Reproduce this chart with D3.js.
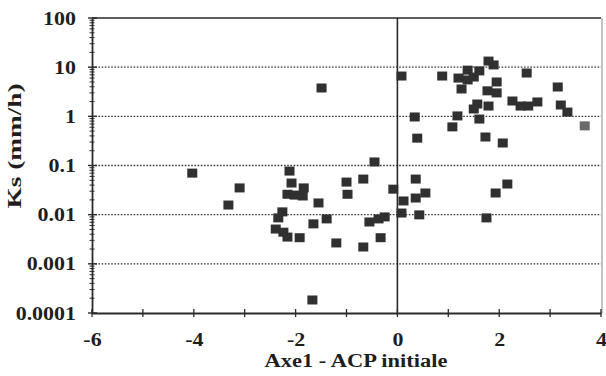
<!DOCTYPE html>
<html>
<head>
<meta charset="utf-8">
<script src="https://cdn.jsdelivr.net/npm/d3@7"></script>
<style>
  html, body { margin: 0; padding: 0; background: #fff; }
  svg { display: block; }
  text { font-family: "Liberation Serif", "Times New Roman", serif; font-weight: bold; fill: #1e1e1e; }
</style>
</head>
<body>
<svg id="chart" width="606" height="376"></svg>
<script>
// Axis 1 scores of the initial PCA
const axe1 = [
  -4.03, -3.10, -3.32, -1.49, -2.12, -2.08, -2.16, -1.84, -2.02, -1.86,
  -1.55, -2.26, -2.34, -2.39, -2.24, -2.16, -1.92, -1.65, -1.39, -1.20,
  -1.67, -1.00, -0.98, -0.67, -0.45, -0.55, -0.37, -0.25, -0.33, -0.67,
  -0.08, 0.12, 0.08, 0.36, 0.36, 0.55, 0.43, 1.93, 2.16, 1.75,
  0.08, 1.79, 1.89, 2.54, 0.88, 1.38, 1.61, 1.20, 1.38, 1.50,
  1.26, 1.95, 1.77, 1.95, 3.15, 2.26, 2.42, 2.57, 2.75, 3.21,
  3.34, 1.57, 1.50, 1.79, 0.34, 1.18, 1.61, 1.08, 0.39, 1.73,
  2.07, 3.68
];
// Saturated hydraulic conductivity Ks (mm/h)
const ks = [
  0.070, 0.035, 0.0157, 3.77, 0.077, 0.044, 0.026, 0.035, 0.025, 0.024,
  0.0173, 0.0114, 0.0086, 0.0051, 0.0044, 0.0035, 0.0034, 0.0065, 0.0082, 0.00266,
  0.000184, 0.046, 0.026, 0.053, 0.118, 0.0071, 0.0082, 0.0090, 0.0034, 0.0022,
  0.033, 0.019, 0.0108, 0.053, 0.0218, 0.0276, 0.0099, 0.0276, 0.042, 0.0086,
  6.6, 13.3, 11.1, 7.6, 6.6, 8.7, 8.4, 6.0, 5.5, 6.3,
  3.6, 5.0, 3.3, 3.0, 3.95, 2.05, 1.62, 1.62, 1.96, 1.70,
  1.22, 1.78, 1.41, 1.62, 0.97, 1.02, 0.88, 0.61, 0.36, 0.38,
  0.287, 0.64
];
// The last sample is printed in a lighter shade
const shade = axe1.map((_, i) => i === axe1.length - 1 ? "#6a6a6a" : "#303030");

const xTicks = [-6, -4, -2, 0, 2, 4];
const xMinorTicks = [-5, -3, -1, 1, 3];
const yTicks = [100, 10, 1, 0.1, 0.01, 0.001, 0.0001];
const yTickLabels = ["100", "10", "1", "0.1", "0.01", "0.001", "0.0001"];
const xTitle = "Axe1 - ACP initiale";
const yTitle = "Ks (mm/h)";

const svg = d3.select("#chart");
const plot = { left: 92, right: 601, top: 18, bottom: 313 };

const x = d3.scaleLinear().domain([-6, 4]).range([plot.left, plot.right]);
const y = d3.scaleLog().domain([0.0001, 100]).range([plot.bottom, plot.top]);

const ink = "#2a2a2a";
const stretch = 1.22; // wide bold serif lettering

// dotted decade grid lines
svg.append("g")
  .selectAll("line")
  .data(yTicks.filter(v => v < 100 && v > 0.0001))
  .join("line")
  .attr("x1", plot.left).attr("x2", plot.right)
  .attr("y1", d => y(d)).attr("y2", d => y(d))
  .attr("stroke", "#333")
  .attr("stroke-width", 1.4)
  .attr("stroke-dasharray", "1.6,1.6");

// frame: top and right borders
svg.append("line").attr("x1", plot.left).attr("x2", plot.right).attr("y1", plot.top).attr("y2", plot.top)
  .attr("stroke", ink).attr("stroke-width", 1.6);
svg.append("line").attr("x1", plot.right + 1).attr("x2", plot.right + 1).attr("y1", plot.top).attr("y2", plot.bottom)
  .attr("stroke", "#888").attr("stroke-width", 1);

// vertical reference line at x = 0
svg.append("line").attr("x1", x(0)).attr("x2", x(0)).attr("y1", plot.top).attr("y2", plot.bottom)
  .attr("stroke", ink).attr("stroke-width", 1.6);

// y axis with log minor ticks crossing the line
const yAxis = d3.axisLeft(y)
  .tickValues(yTicks)
  .tickFormat((d, i) => yTickLabels[i])
  .tickSize(0);
const gy = svg.append("g").attr("transform", `translate(${plot.left},0)`).call(yAxis);
gy.select(".domain").attr("stroke", ink).attr("stroke-width", 1.8);
gy.selectAll("text")
  .attr("font-size", 18).attr("fill", "#1e1e1e")
  .attr("x", 0).attr("dy", "0.34em").attr("text-anchor", "end")
  .attr("transform", `translate(-16,0) scale(${stretch},1)`);

const minor = [];
for (let e = -4; e < 2; e++) for (let m = 2; m <= 9; m++) minor.push(m * Math.pow(10, e));
svg.append("g").selectAll("line").data(minor).join("line")
  .attr("x1", plot.left - 2.5).attr("x2", plot.left + 2.5)
  .attr("y1", d => y(d)).attr("y2", d => y(d))
  .attr("stroke", ink).attr("stroke-width", 1);
svg.append("g").selectAll("line").data(yTicks).join("line")
  .attr("x1", plot.left - 4).attr("x2", plot.left + 5)
  .attr("y1", d => y(d)).attr("y2", d => y(d))
  .attr("stroke", ink).attr("stroke-width", 1.4);

// x axis with crossing ticks
const xAxis = d3.axisBottom(x).tickValues(xTicks)
  .tickFormat(d => d < 0 ? "-" + Math.abs(d) : String(d))
  .tickSize(0);
const gx = svg.append("g").attr("transform", `translate(0,${plot.bottom})`).call(xAxis);
gx.select(".domain").attr("stroke", ink).attr("stroke-width", 1.8);
gx.selectAll("text")
  .attr("font-size", 18).attr("fill", "#1e1e1e")
  .attr("y", 0).attr("dy", 0)
  .attr("transform", `translate(0,33) scale(${stretch},1)`);

svg.append("g").selectAll("line").data(xTicks.concat(xMinorTicks)).join("line")
  .attr("x1", d => x(d)).attr("x2", d => x(d))
  .attr("y1", plot.bottom - 4).attr("y2", plot.bottom + 4)
  .attr("stroke", ink).attr("stroke-width", 1.3);

// axis titles
svg.append("text").attr("x", 356).attr("y", 367)
  .attr("text-anchor", "middle").attr("font-size", 18)
  .attr("textLength", 183).attr("lengthAdjust", "spacingAndGlyphs")
  .text(xTitle);
svg.append("text").attr("transform", `translate(21,146) rotate(-90)`)
  .attr("text-anchor", "middle").attr("font-size", 18)
  .attr("textLength", 125).attr("lengthAdjust", "spacingAndGlyphs")
  .text(yTitle);

// sample squares
const w = 10, h = 9;
svg.append("g").selectAll("rect")
  .data(axe1.map((v, i) => ({ a: v, k: ks[i], c: shade[i] })))
  .join("rect")
  .attr("x", d => x(d.a) - w / 2)
  .attr("y", d => y(d.k) - h / 2)
  .attr("width", w).attr("height", h)
  .attr("fill", d => d.c);
</script>
</body>
</html>
